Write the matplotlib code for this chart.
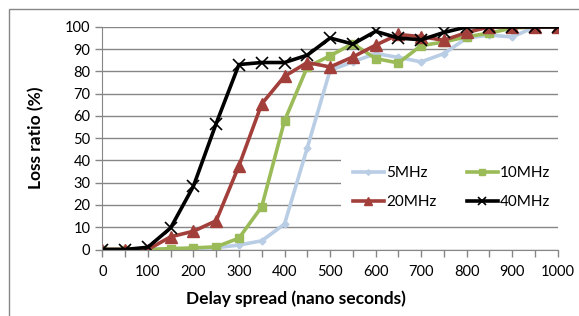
import matplotlib
matplotlib.use('Agg')
import matplotlib.pyplot as plt
from matplotlib.patches import Rectangle

plt.rcParams['font.family'] = ['Lato', 'DejaVu Sans']

delay = [0, 50, 100, 150, 200, 250, 300, 350, 400, 450, 500,
         550, 600, 650, 700, 750, 800, 850, 900, 950, 1000]
loss_5mhz = [0, 0, 0, 0.2, 0.4, 0.8, 2, 3.9, 11.4, 45.7, 80.5,
             84.3, 88, 86.3, 84.3, 88, 95, 96.3, 95.5, 100, 100]
loss_10mhz = [0, 0, 0, 0.4, 0.7, 1.2, 5.1, 19.2, 57.8, 82, 87,
              92.5, 85.8, 83.8, 91.6, 93.2, 95.6, 97.2, 99.5, 100, 100]
loss_20mhz = [0, 0, 0, 5.7, 8.2, 12.9, 37.6, 65.4, 77.8, 84, 82,
              86.5, 91.8, 96.6, 95.6, 94, 97.5, 100, 100, 100, 100]
loss_40mhz = [0, 0, 1, 9.7, 28.4, 56.6, 83.1, 84, 84, 87.3, 95,
              92.3, 98, 95, 94.2, 97.5, 100, 100, 100, 100, 100]

grid_col = '#868686'

fig = plt.figure(figsize=(5.79, 3.16), dpi=100)
ax = fig.add_axes([102.3 / 579, 66.5 / 316, (557.8 - 102.3) / 579, (249.3 - 26.7) / 316])

# outer chart frame (cropped at right/bottom)
fig.patches.append(Rectangle((8.5 / 579, -0.1), 2, (316 - 8.5) / 316 + 0.1,
                             transform=fig.transFigure, fill=False,
                             edgecolor=grid_col, linewidth=1))

l5, = ax.plot(delay, loss_5mhz, color='#B9CDE5', linewidth=2.6, marker='D',
              markersize=3.5, label='5MHz')
l10, = ax.plot(delay, loss_10mhz, color='#9BBB59', linewidth=2.6, marker='s',
               markersize=6, label='10MHz')
l20, = ax.plot(delay, loss_20mhz, color='#A33F3B', linewidth=2.6, marker='^',
               markersize=8, label='20MHz')
l40, = ax.plot(delay, loss_40mhz, color='black', linewidth=2.6, marker='x',
               markersize=8, markeredgewidth=1.2, label='40MHz')

ax.set_xlim(0, 1000)
ax.set_ylim(0, 100)
ax.set_xticks(range(0, 1001, 100))
ax.set_xticks(range(0, 1001, 50), minor=True)
ax.set_yticks(range(0, 101, 10))
ax.tick_params(axis='both', labelsize=10.5, colors=grid_col, labelcolor='black',
               length=5, width=1, direction='out')
ax.tick_params(axis='x', which='minor', length=5, width=1, colors=grid_col)
ax.tick_params(axis='x', pad=6)
ax.grid(True, axis='y', color=grid_col, linewidth=1)
ax.set_axisbelow(True)
for s in ['top', 'right']:
    ax.spines[s].set_visible(False)
for s in ['left', 'bottom']:
    ax.spines[s].set_color(grid_col)

ax.set_xlabel('Delay spread (nano seconds)', fontsize=12.5, fontweight='bold')
ax.xaxis.set_label_coords(0.425, -0.182)
ax.set_ylabel('Loss ratio (%)', fontsize=12.5, fontweight='bold')
ax.yaxis.set_label_coords(-0.128, 0.5)

# row-wise order like the original: 5/10 on top, 20/40 below
leg = ax.legend([l5, l20, l10, l40], ['5MHz', '20MHz', '10MHz', '40MHz'],
                ncol=2, loc='upper left', bbox_to_anchor=(0.524, 0.43),
                frameon=True, fancybox=False, framealpha=1, edgecolor='white',
                fontsize=11, handlelength=2.0, handletextpad=0.15,
                columnspacing=2.0, labelspacing=1.0, borderpad=0.8,
                borderaxespad=0, markerscale=0.8)
leg.get_frame().set_linewidth(0)

fig.savefig('out.png', dpi=100)
